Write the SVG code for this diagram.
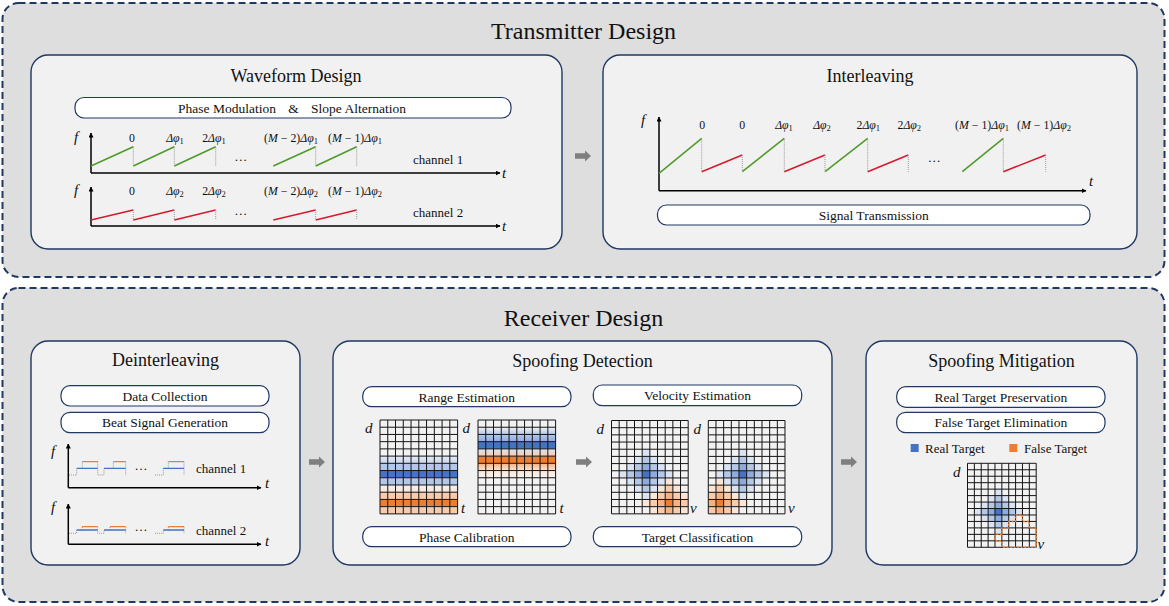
<svg xmlns="http://www.w3.org/2000/svg" xmlns:xlink="http://www.w3.org/1999/xlink" width="1169" height="606" viewBox="0 0 1169 606">
<style>
text{font-family:"Liberation Serif","Times New Roman",serif;fill:#111}
.outer{fill:#dedede;stroke:#1f3864;stroke-width:2;stroke-dasharray:7 4}
.box{fill:#f1f1f1;stroke:#1f3864;stroke-width:1.4}
.pill{fill:#fff;stroke:#1f3864;stroke-width:1.2}
.t1{font-size:24px;text-anchor:middle}
.t2{font-size:18px;text-anchor:middle}
.pt{font-size:13.5px;text-anchor:middle}
.ch{font-size:13px}
.m{font-size:11.8px;text-anchor:middle}
.i{font-style:italic}
.ax{font-size:15px;font-style:italic}
.axis{fill:none;stroke:#000;stroke-width:1.5}
.g{fill:none;stroke:#4e9a28;stroke-width:1.5}
.r{fill:none;stroke:#d9182d;stroke-width:1.5}
.dot{fill:none;stroke:#9a9a9a;stroke-width:1;stroke-dasharray:1 1}
.bl{fill:none;stroke:#4472c4;stroke-width:1.3}
.or{fill:none;stroke:#ed7d31;stroke-width:1.3}
.arrow{fill:#7f7f7f}
</style>
<defs>
<marker id="ah" viewBox="0 0 10 10" refX="9" refY="5" markerWidth="5" markerHeight="5" orient="auto" markerUnits="userSpaceOnUse">
<path d="M0 0L10 5L0 10Z" fill="#000"/>
</marker>
<path id="blk" d="M0 -2.8H10V-5.5L16 0L10 5.5V2.8H0Z"/>
<path id="gl" d="M0 0V13M1 0V13M2 0V13M3 0V13M4 0V13M5 0V13M6 0V13M7 0V13M8 0V13M9 0V13M10 0V13M0 0H10M0 1H10M0 2H10M0 3H10M0 4H10M0 5H10M0 6H10M0 7H10M0 8H10M0 9H10M0 10H10M0 11H10M0 12H10M0 13H10" fill="none" stroke="#151515" stroke-width="1" vector-effect="non-scaling-stroke"/>
<rect id="base" width="10" height="13" fill="#f2f2f2"/>
<clipPath id="gc" clipPathUnits="userSpaceOnUse"><rect width="10" height="13"/></clipPath>
<g id="bb">
<rect x="-3" y="0" width="1" height="1" fill="#dae3f3"/><rect x="3" y="0" width="1" height="1" fill="#dae3f3"/>
<rect x="0" y="-3" width="1" height="1" fill="#dae3f3"/><rect x="0" y="3" width="1" height="1" fill="#dae3f3"/>
<rect x="-2" y="-1" width="1" height="1" fill="#dae3f3"/><rect x="2" y="-1" width="1" height="1" fill="#dae3f3"/>
<rect x="-2" y="1" width="1" height="1" fill="#dae3f3"/><rect x="2" y="1" width="1" height="1" fill="#dae3f3"/>
<rect x="-1" y="-2" width="1" height="1" fill="#dae3f3"/><rect x="1" y="-2" width="1" height="1" fill="#dae3f3"/>
<rect x="-1" y="2" width="1" height="1" fill="#dae3f3"/><rect x="1" y="2" width="1" height="1" fill="#dae3f3"/>
<rect x="-2" y="0" width="1" height="1" fill="#b4c7e7"/><rect x="2" y="0" width="1" height="1" fill="#b4c7e7"/>
<rect x="0" y="-2" width="1" height="1" fill="#b4c7e7"/><rect x="0" y="2" width="1" height="1" fill="#b4c7e7"/>
<rect x="-1" y="-1" width="1" height="1" fill="#b4c7e7"/><rect x="1" y="-1" width="1" height="1" fill="#b4c7e7"/>
<rect x="-1" y="1" width="1" height="1" fill="#b4c7e7"/><rect x="1" y="1" width="1" height="1" fill="#b4c7e7"/>
<rect x="-1" y="0" width="1" height="1" fill="#8faadc"/><rect x="1" y="0" width="1" height="1" fill="#8faadc"/>
<rect x="0" y="-1" width="1" height="1" fill="#8faadc"/><rect x="0" y="1" width="1" height="1" fill="#8faadc"/>
<rect x="0" y="0" width="1" height="1" fill="#4472c4"/>
</g>
<g id="ob">
<rect x="-3" y="0" width="1" height="1" fill="#fbe5d6"/><rect x="3" y="0" width="1" height="1" fill="#fbe5d6"/>
<rect x="0" y="-3" width="1" height="1" fill="#fbe5d6"/><rect x="0" y="3" width="1" height="1" fill="#fbe5d6"/>
<rect x="-2" y="-1" width="1" height="1" fill="#fbe5d6"/><rect x="2" y="-1" width="1" height="1" fill="#fbe5d6"/>
<rect x="-2" y="1" width="1" height="1" fill="#fbe5d6"/><rect x="2" y="1" width="1" height="1" fill="#fbe5d6"/>
<rect x="-1" y="-2" width="1" height="1" fill="#fbe5d6"/><rect x="1" y="-2" width="1" height="1" fill="#fbe5d6"/>
<rect x="-1" y="2" width="1" height="1" fill="#fbe5d6"/><rect x="1" y="2" width="1" height="1" fill="#fbe5d6"/>
<rect x="-2" y="0" width="1" height="1" fill="#f8cbad"/><rect x="2" y="0" width="1" height="1" fill="#f8cbad"/>
<rect x="0" y="-2" width="1" height="1" fill="#f8cbad"/><rect x="0" y="2" width="1" height="1" fill="#f8cbad"/>
<rect x="-1" y="-1" width="1" height="1" fill="#f8cbad"/><rect x="1" y="-1" width="1" height="1" fill="#f8cbad"/>
<rect x="-1" y="1" width="1" height="1" fill="#f8cbad"/><rect x="1" y="1" width="1" height="1" fill="#f8cbad"/>
<rect x="-1" y="0" width="1" height="1" fill="#f4b183"/><rect x="1" y="0" width="1" height="1" fill="#f4b183"/>
<rect x="0" y="-1" width="1" height="1" fill="#f4b183"/><rect x="0" y="1" width="1" height="1" fill="#f4b183"/>
<rect x="0" y="0" width="1" height="1" fill="#ed7d31"/>
</g>
<linearGradient id="gb1" x1="0" y1="0" x2="0" y2="1"><stop offset="0" stop-color="#f2f2f2"/><stop offset="1" stop-color="#b4c7e7"/></linearGradient>
<linearGradient id="gb2" x1="0" y1="0" x2="0" y2="1"><stop offset="0" stop-color="#b4c7e7"/><stop offset="1" stop-color="#8faadc"/></linearGradient>
<linearGradient id="gbo" x1="0" y1="0" x2="0" y2="1"><stop offset="0" stop-color="#dae3f3"/><stop offset="1" stop-color="#f8cbad"/></linearGradient>
<linearGradient id="go1" x1="0" y1="0" x2="0" y2="1"><stop offset="0" stop-color="#f4b183"/><stop offset="1" stop-color="#fbe5d6"/></linearGradient>
<linearGradient id="go2" x1="0" y1="0" x2="0" y2="1"><stop offset="0" stop-color="#fbe5d6"/><stop offset="1" stop-color="#f7f3f1"/></linearGradient>
<linearGradient id="gl1" x1="0" y1="0" x2="0" y2="1"><stop offset="0" stop-color="#e4eaf5"/><stop offset="1" stop-color="#c9d6ee"/></linearGradient>
<linearGradient id="gp1" x1="0" y1="0" x2="0" y2="1"><stop offset="0" stop-color="#eef0f6"/><stop offset="1" stop-color="#fbe5d6"/></linearGradient>
</defs>

<!-- Transmitter panel -->
<g id="transmitter">
<rect class="outer" x="2.5" y="3" width="1162" height="274" rx="16"/>
<text class="t1" x="583.5" y="39">Transmitter Design</text>
</g>

<g id="waveform-design">
<rect class="box" x="31" y="55" width="531" height="194" rx="17"/>
<text class="t2" x="296" y="82">Waveform Design</text>
<rect class="pill" x="75" y="97.5" width="436" height="20.5" rx="9"/>
<text class="pt" x="227" y="112.5">Phase Modulation</text>
<text class="pt" x="293.5" y="112.5">&amp;</text>
<text class="pt" x="358.5" y="112.5">Slope Alternation</text>
<!-- channel 1 -->
<path class="axis" d="M91 173V133" marker-end="url(#ah)"/>
<path class="axis" d="M91 173H500" marker-end="url(#ah)"/>
<text class="ax" x="74" y="142">f</text>
<text class="ax" x="502" y="178">t</text>
<path class="g" d="M91 166L133.3 146.7M133.3 166L174.3 146.7M174.3 166L215.7 146.7M273.3 166L315.7 146.7M315.7 166L356.7 146.7"/>
<path class="dot" d="M133.3 146.7V166M174.3 146.7V166M215.7 146.7V166M315.7 146.7V166M356.7 146.7V166"/>
<text class="ch" x="240.7" y="161" text-anchor="middle">…</text>
<text class="ch" x="413" y="164">channel 1</text>
<text class="m" x="132" y="142">0</text>
<text class="m" x="175" y="142"><tspan class="i">Δφ</tspan><tspan font-size="8.5" dy="2">1</tspan></text>
<text class="m" x="214" y="142">2<tspan class="i">Δφ</tspan><tspan font-size="8.5" dy="2">1</tspan></text>
<text class="m" x="291" y="142">(<tspan class="i">M</tspan> − 2)<tspan class="i">Δφ</tspan><tspan font-size="8.5" dy="2">1</tspan></text>
<text class="m" x="355" y="142">(<tspan class="i">M</tspan> − 1)<tspan class="i">Δφ</tspan><tspan font-size="8.5" dy="2">1</tspan></text>
<!-- channel 2 -->
<path class="axis" d="M91 226V187" marker-end="url(#ah)"/>
<path class="axis" d="M91 226H500" marker-end="url(#ah)"/>
<text class="ax" x="74" y="195">f</text>
<text class="ax" x="502" y="231">t</text>
<path class="r" d="M91 220L133.3 210M133.3 220L174.3 210M174.3 220L215.7 210M273.3 220L315.7 210M315.7 220L356.7 210"/>
<path class="dot" d="M133.3 210V220M174.3 210V220M215.7 210V220M315.7 210V220M356.7 210V220"/>
<text class="ch" x="240.7" y="215" text-anchor="middle">…</text>
<text class="ch" x="413" y="217">channel 2</text>
<text class="m" x="132" y="195">0</text>
<text class="m" x="175" y="195"><tspan class="i">Δφ</tspan><tspan font-size="8.5" dy="2">2</tspan></text>
<text class="m" x="214" y="195">2<tspan class="i">Δφ</tspan><tspan font-size="8.5" dy="2">2</tspan></text>
<text class="m" x="291" y="195">(<tspan class="i">M</tspan> − 2)<tspan class="i">Δφ</tspan><tspan font-size="8.5" dy="2">2</tspan></text>
<text class="m" x="355" y="195">(<tspan class="i">M</tspan> − 1)<tspan class="i">Δφ</tspan><tspan font-size="8.5" dy="2">2</tspan></text>
</g>

<g id="interleaving">
<rect class="box" x="603" y="55" width="534" height="194" rx="17"/>
<text class="t2" x="870" y="82">Interleaving</text>
<path class="axis" d="M659 190.7V117" marker-end="url(#ah)"/>
<path class="axis" d="M659 190.7H1086" marker-end="url(#ah)"/>
<text class="ax" x="641" y="125">f</text>
<text class="ax" x="1089" y="186">t</text>
<path class="g" d="M659 173.3L701.7 138.3M742.3 171.7L784.3 138.3M825 171.7L867.7 138.3M962.3 171.7L1003.3 138.3"/>
<path class="r" d="M701.7 171.7L742.3 155M784.3 171.7L825 155M867.7 171.7L908.3 155M1003.3 171.7L1045.7 155"/>
<path class="dot" d="M701.7 138.3V171.7M742.3 155V171.7M784.3 138.3V171.7M825 155V171.7M867.7 138.3V171.7M908.3 155V171.7M1003.3 138.3V171.7M1045.7 155V171.7"/>
<text class="ch" x="934.3" y="162" text-anchor="middle">…</text>
<text class="m" x="702.3" y="129">0</text>
<text class="m" x="742.3" y="129">0</text>
<text class="m" x="784" y="129"><tspan class="i">Δφ</tspan><tspan font-size="8.5" dy="2">1</tspan></text>
<text class="m" x="822" y="129"><tspan class="i">Δφ</tspan><tspan font-size="8.5" dy="2">2</tspan></text>
<text class="m" x="868.3" y="129">2<tspan class="i">Δφ</tspan><tspan font-size="8.5" dy="2">1</tspan></text>
<text class="m" x="909.3" y="129">2<tspan class="i">Δφ</tspan><tspan font-size="8.5" dy="2">2</tspan></text>
<text class="m" x="982" y="129">(<tspan class="i">M</tspan> − 1)<tspan class="i">Δφ</tspan><tspan font-size="8.5" dy="2">1</tspan></text>
<text class="m" x="1044" y="129">(<tspan class="i">M</tspan> − 1)<tspan class="i">Δφ</tspan><tspan font-size="8.5" dy="2">2</tspan></text>
<rect class="pill" x="657.5" y="205" width="432.5" height="20" rx="9"/>
<text class="pt" x="873.7" y="220">Signal Transmission</text>
</g>

<!-- Receiver panel -->
<g id="receiver">
<rect class="outer" x="2.5" y="288" width="1162" height="314" rx="16"/>
<text class="t1" x="583.5" y="326">Receiver Design</text>
</g>

<g id="deinterleaving">
<rect class="box" x="31" y="341" width="269" height="224" rx="17"/>
<text class="t2" x="165.5" y="366">Deinterleaving</text>
<rect class="pill" x="61" y="385.7" width="208" height="20.3" rx="9"/>
<text class="pt" x="165" y="400.7">Data Collection</text>
<rect class="pill" x="61" y="412.3" width="208" height="20.4" rx="9"/>
<text class="pt" x="165" y="427.3">Beat Signal Generation</text>
<!-- channel 1 -->
<path class="axis" d="M68.3 487.7V444" marker-end="url(#ah)"/>
<path class="axis" d="M68.3 487.7H261" marker-end="url(#ah)"/>
<text class="ax" x="51" y="456">f</text>
<text class="ax" x="265" y="488">t</text>
<path class="dot" d="M69 475H76.7V468.3M82.3 468.3V461.7M97.7 461.7V475H104V468.3M113.3 468.3V461.7M125.7 461.7V475M155 475H163.3V468.3M168.3 468.3V461.7M184 461.7V475"/>
<path class="bl" d="M76.7 468.3H97.7M104 468.3H125.7M163.3 468.3H184"/>
<path class="or" d="M82.3 461.7H97.7M113.3 461.7H125.7M168.3 461.7H184"/>
<text class="ch" x="141" y="470" text-anchor="middle">…</text>
<text class="ch" x="196" y="472.5">channel 1</text>
<!-- channel 2 -->
<path class="axis" d="M68.3 544.3V504" marker-end="url(#ah)"/>
<path class="axis" d="M68.3 544.3H261" marker-end="url(#ah)"/>
<text class="ax" x="51" y="512">f</text>
<text class="ax" x="265" y="546">t</text>
<path class="dot" d="M69 533.3H76.7V530M82.3 530V526.7M97.7 526.7V533.3H104V530M110 530V526.7M125.7 526.7V533.3M155 533.3H163.3V530M168.3 530V526.7M184 526.7V533.3"/>
<path class="bl" d="M76.7 530H97.7M104 530H125.7M163.3 530H184"/>
<path class="or" d="M82.3 526.7H97.7M110 526.7H125.7M168.3 526.7H184"/>
<text class="ch" x="141" y="531" text-anchor="middle">…</text>
<text class="ch" x="196" y="534.5">channel 2</text>
</g>

<g id="spoofing-detection">
<rect class="box" x="333" y="341" width="499" height="224" rx="17"/>
<text class="t2" x="582.5" y="367">Spoofing Detection</text>
<rect class="pill" x="362.7" y="386.7" width="208.3" height="20" rx="9"/>
<text class="pt" x="466.8" y="401.5">Range Estimation</text>
<rect class="pill" x="362.7" y="526.7" width="208.3" height="20" rx="9"/>
<text class="pt" x="466.8" y="541.5">Phase Calibration</text>
<rect class="pill" x="593.3" y="385" width="208.4" height="20.7" rx="9"/>
<text class="pt" x="697.5" y="400">Velocity Estimation</text>
<rect class="pill" x="593.3" y="526.7" width="208.4" height="20" rx="9"/>
<text class="pt" x="697.5" y="541.5">Target Classification</text>
<!-- range grid 1 -->
<g transform="translate(380 420) scale(7.76 7.22)">
<use href="#base"/>
<rect y="5" width="10" height="1" fill="url(#gl1)"/>
<rect y="6" width="10" height="1" fill="#b4c7e7"/>
<rect y="7" width="10" height="1" fill="#4472c4"/>
<rect y="8" width="10" height="1" fill="#b4c7e7"/>
<rect y="9" width="10" height="1" fill="url(#gp1)"/>
<rect y="10" width="10" height="1" fill="#f8cbad"/>
<rect y="11" width="10" height="1" fill="#ed7d31"/>
<rect y="12" width="10" height="1" fill="#f8cbad"/>
<use href="#gl"/>
</g>
<!-- range grid 2 -->
<g transform="translate(478 420) scale(7.76 7.22)">
<use href="#base"/>
<rect y="1" width="10" height="1" fill="url(#gb1)"/>
<rect y="2" width="10" height="1" fill="url(#gb2)"/>
<rect y="3" width="10" height="1" fill="#4472c4"/>
<rect y="4" width="10" height="1" fill="url(#gbo)"/>
<rect y="5" width="10" height="1" fill="#ed7d31"/>
<rect y="6" width="10" height="1" fill="url(#go1)"/>
<rect y="7" width="10" height="1" fill="url(#go2)"/>
<use href="#gl"/>
</g>
<text class="ax" x="365" y="433">d</text>
<text class="ax" x="462.5" y="433">d</text>
<text class="ax" x="461" y="513">t</text>
<text class="ax" x="559.5" y="513">t</text>
<!-- velocity grid 1 -->
<g transform="translate(611.5 420.5) scale(7.67 7.18)">
<use href="#base"/>
<g clip-path="url(#gc)">
<use href="#bb" x="4" y="7"/>
<use href="#ob" x="7" y="11"/>
</g>
<use href="#gl"/>
</g>
<!-- velocity grid 2 -->
<g transform="translate(708.3 420.5) scale(7.67 7.18)">
<use href="#base"/>
<g clip-path="url(#gc)">
<use href="#bb" x="4" y="7"/>
<use href="#ob" x="1" y="11"/>
</g>
<use href="#gl"/>
</g>
<text class="ax" x="596.5" y="434">d</text>
<text class="ax" x="693.5" y="434">d</text>
<text class="ax" x="690" y="513">v</text>
<text class="ax" x="788" y="513">v</text>
</g>

<g id="spoofing-mitigation">
<rect class="box" x="866" y="341" width="271" height="224" rx="17"/>
<text class="t2" x="1001.5" y="367">Spoofing Mitigation</text>
<rect class="pill" x="896.7" y="386.7" width="208.3" height="20.6" rx="9"/>
<text class="pt" x="1000.8" y="401.8">Real Target Preservation</text>
<rect class="pill" x="896.7" y="412.3" width="208.3" height="20.4" rx="9"/>
<text class="pt" x="1000.8" y="427.3">False Target Elimination</text>
<rect x="910.7" y="444" width="8" height="8" fill="#4472c4"/>
<text class="ch" x="925" y="452.5" font-size="13.5">Real Target</text>
<rect x="1009.3" y="444" width="8" height="8" fill="#ed7d31"/>
<text class="ch" x="1024" y="452.5" font-size="13.5">False Target</text>
<g transform="translate(967.5 463.3) scale(6.87 6.46)">
<use href="#base"/>
<g clip-path="url(#gc)">
<use href="#bb" x="4" y="7"/>
</g>
<use href="#gl"/>
<path d="M7 8H8V9H9V10H10V13H5V12H4V11H5V10H6V9H7Z" fill="none" stroke="#ed7d31" stroke-width="1.5" stroke-dasharray="2 1.5" vector-effect="non-scaling-stroke"/>
</g>
<text class="ax" x="953" y="477">d</text>
<text class="ax" x="1037.5" y="549">v</text>
</g>

<g id="connectors" class="arrow">
<use href="#blk" x="575" y="156"/>
<use href="#blk" x="309" y="462"/>
<use href="#blk" x="576" y="462"/>
<use href="#blk" x="841" y="462"/>
</g>
</svg>
